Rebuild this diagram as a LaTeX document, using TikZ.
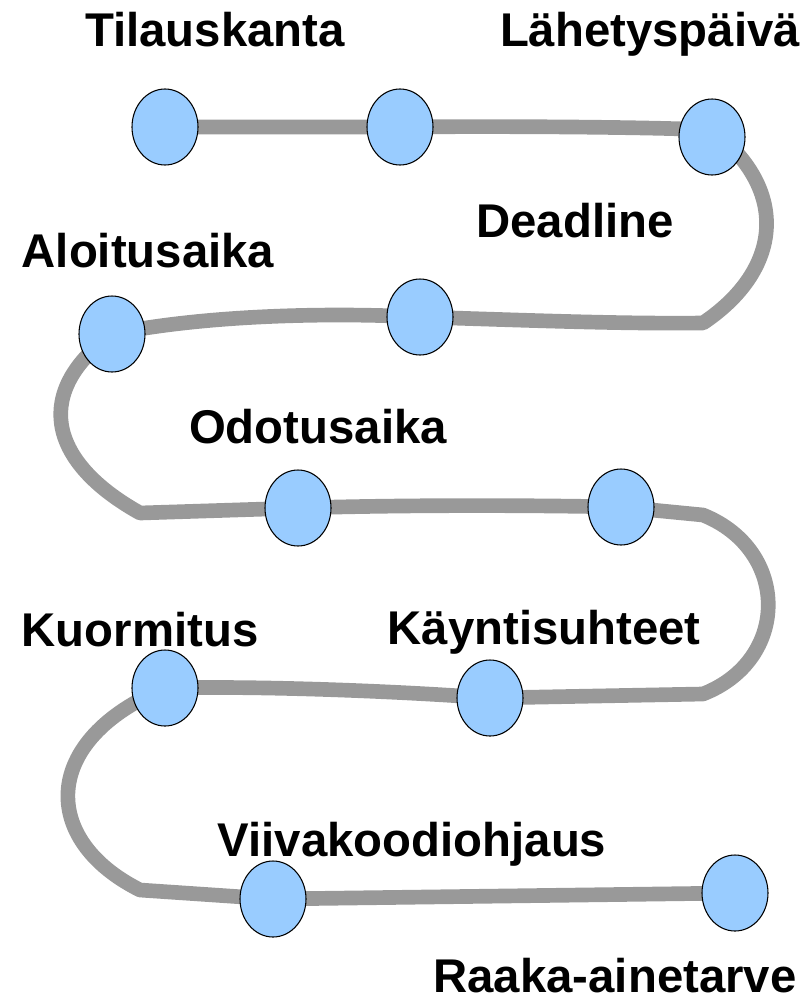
\documentclass[tikz,border=0pt]{standalone}
\usepackage{fontspec}
\setmainfont{Liberation Sans}
\usetikzlibrary{shapes.geometric}
\definecolor{pathgray}{HTML}{999999}
\definecolor{dotblue}{HTML}{99CCFF}
\tikzset{
  dot/.style={ellipse, draw=black, line width=0.8pt, fill=dotblue, minimum width=49.5pt, minimum height=57pt, inner sep=0pt},
  lbl/.style={anchor=base, inner sep=0pt, font=\fontsize{35.5}{42}\selectfont\bfseries},
  track/.style={draw=pathgray, line width=11pt, line join=round}
}
\begin{document}
\begin{tikzpicture}[x=0.75pt, y=-0.75pt]
\useasboundingbox (0,0) rectangle (807,1004);
% corners
\coordinate (k1) at (703,323);
\coordinate (k2) at (140,513);
\coordinate (k3) at (703,515);
\coordinate (k4) at (703,694);
\coordinate (k5) at (140,890);
% dots (positions)
\coordinate (p1) at (165,127);
\coordinate (p2) at (400,127);
\coordinate (p3) at (712,137);
\coordinate (p4) at (112,334);
\coordinate (p5) at (420,317);
\coordinate (p6) at (298,508);
\coordinate (p7) at (621,507);
\coordinate (p8) at (165,688);
\coordinate (p9) at (490,698);
\coordinate (p10) at (273,899);
\coordinate (p11) at (735,893);
% track
\path[track] (p1) -- (p2) .. controls (500,126) and (650,127) .. (712,130)
  .. controls (790,190) and (782,270) .. (k1)
  .. controls (620,324) and (520,320) .. (p5)
  .. controls (320,312) and (200,316) .. (p4)
  .. controls (35,390) and (45,460) .. (k2)
  -- (p6) .. controls (400,505) and (520,505) .. (p7) -- (k3)
  .. controls (790,550) and (790,660) .. (k4)
  -- (p9) .. controls (380,690) and (250,686) .. (p8)
  .. controls (40,740) and (40,840) .. (k5)
  -- (p10) -- (p11);
% dots
\node[dot] (c1) at (p1) {};
\node[dot] (c2) at (p2) {};
\node[dot] (c3) at (p3) {};
\node[dot] (c4) at (p4) {};
\node[dot] (c5) at (p5) {};
\node[dot] (c6) at (p6) {};
\node[dot] (c7) at (p7) {};
\node[dot] (c8) at (p8) {};
\node[dot] (c9) at (p9) {};
\node[dot] (c10) at (p10) {};
\node[dot] (c11) at (p11) {};
% labels
\node[lbl] (t1) at (215,46) {Tilauskanta};
\node[lbl] (t2) at (650,46) {Lähetyspäivä};
\node[lbl] (t3) at (575,237) {Deadline};
\node[lbl] (t4) at (148,267) {Aloitusaika};
\node[lbl] (t5) at (318,443) {Odotusaika};
\node[lbl] (t6) at (140,646) {Kuormitus};
\node[lbl] (t7) at (544,644) {Käyntisuhteet};
\node[lbl] (t8) at (412,856) {Viivakoodiohjaus};
\node[lbl] (t9) at (615,992) {Raaka-ainetarve};
\end{tikzpicture}
\end{document}
